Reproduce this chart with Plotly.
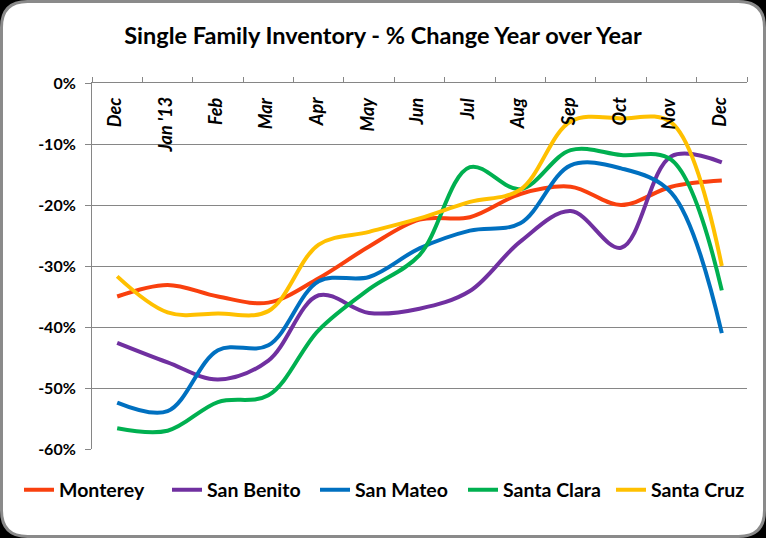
import plotly.graph_objects as go

# ---- data ----
months = ["Dec", "Jan '13", "Feb", "Mar", "Apr", "May", "Jun", "Jul", "Aug", "Sep", "Oct", "Nov", "Dec"]
monterey = [-35.0, -33.1, -35.0, -36.0, -32.0, -26.8, -22.4, -22.0, -18.2, -17.0, -20.0, -17.0, -16.0]
san_benito = [-42.6, -45.8, -48.6, -45.5, -34.8, -37.7, -37.0, -34.1, -26.0, -21.0, -27.0, -12.0, -13.0]
san_mateo = [-52.4, -53.8, -43.8, -43.0, -32.5, -31.8, -27.1, -24.2, -23.0, -13.5, -14.0, -18.0, -41.0]
santa_clara = [-56.6, -57.0, -52.3, -51.2, -40.5, -33.8, -28.2, -13.8, -17.4, -11.0, -11.8, -12.6, -34.0]
santa_cruz = [-31.7, -37.6, -37.8, -37.4, -26.5, -24.4, -22.2, -19.5, -17.5, -6.3, -5.8, -6.5, -30.0]

series = [
    ("Monterey", monterey, "#F9400E"),
    ("San Benito", san_benito, "#7030A0"),
    ("San Mateo", san_mateo, "#0070C0"),
    ("Santa Clara", santa_clara, "#00B050"),
    ("Santa Cruz", santa_cruz, "#FFC000"),
]
yticks = [0, -10, -20, -30, -40, -50, -60]

FONT = "Lato, Roboto, sans-serif"
W, H = 766, 538
L, R, T, B = 92, 19, 83, 89
PW, PH = W - L - R, H - T - B

xs = list(range(len(months)))
fig = go.Figure()
for name, vals, col in series:
    fig.add_trace(go.Scatter(
        x=xs, y=vals, name=name, mode="lines",
        line=dict(color=col, width=4, shape="spline", smoothing=1.0),
    ))

# month labels sit inside the plot, just under the top axis
for i, m in zip(xs, months):
    fig.add_annotation(
        x=i - 0.06, xref="x", y=1 - 12 / PH, yref="paper",
        text="<b><i>%s</i></b>" % m, textangle=-90,
        xanchor="center", yanchor="top", showarrow=False,
        font=dict(size=18, family=FONT, color="black"),
    )


def px2paper(px, py):
    return (px - L) / PW, (H - B - py) / PH


def rounded_rect(x0, y0, x1, y1, r):
    a = px2paper
    p = []
    p.append("M %f,%f" % a(x0 + r, y0))
    p.append("L %f,%f" % a(x1 - r, y0))
    p.append("Q %f,%f %f,%f" % (*a(x1, y0), *a(x1, y0 + r)))
    p.append("L %f,%f" % a(x1, y1 - r))
    p.append("Q %f,%f %f,%f" % (*a(x1, y1), *a(x1 - r, y1)))
    p.append("L %f,%f" % a(x0 + r, y1))
    p.append("Q %f,%f %f,%f" % (*a(x0, y1), *a(x0, y1 - r)))
    p.append("L %f,%f" % a(x0, y0 + r))
    p.append("Q %f,%f %f,%f" % (*a(x0, y0), *a(x0 + r, y0)))
    p.append("Z")
    return " ".join(p)


fig.add_shape(type="path", xref="paper", yref="paper",
              path=rounded_rect(1.5, 1.5, 764.5, 536.5, 26),
              fillcolor="white", line=dict(color="#8A8A8A", width=3), layer="below")

fig.update_layout(
    width=W, height=H,
    margin=dict(l=L, r=R, t=T, b=B, autoexpand=False),
    paper_bgcolor="black",
    plot_bgcolor="rgba(0,0,0,0)",
    font=dict(family=FONT, color="black"),
    title=dict(text="<b>Single Family Inventory - % Change Year over Year</b>",
               x=0.5, xanchor="center", y=1 - 36 / H, yanchor="middle",
               font=dict(size=23.5, family=FONT, color="black")),
    showlegend=True,
    legend=dict(orientation="h", x=(19 - L) / PW, xanchor="left",
                y=(H - B - 490) / PH, yanchor="middle",
                font=dict(size=19.5, family=FONT, color="black", weight="bold"),
                entrywidth=103, entrywidthmode="pixels",
                itemwidth=30,
                bgcolor="rgba(0,0,0,0)", traceorder="normal"),
    xaxis=dict(
        range=[-0.5, len(months) - 0.5],
        side="top",
        tickmode="array", tickvals=[i - 0.5 for i in range(len(months) + 1)],
        showticklabels=False,
        ticks="outside", ticklen=5, tickcolor="#868686", tickwidth=1,
        showgrid=False, zeroline=False,
        showline=True, linecolor="#868686", linewidth=1,
    ),
    yaxis=dict(
        range=[-60, 0],
        tickmode="array", tickvals=yticks,
        ticktext=["<b>%d%%</b>" % v for v in yticks],
        tickfont=dict(size=16, family=FONT, color="black"),
        ticks="outside", ticklen=6, tickcolor="#868686",
        ticklabelstandoff=6,
        showgrid=True, gridcolor="#868686", gridwidth=1,
        zeroline=False,
        showline=True, linecolor="#868686", linewidth=1,
    ),
)

fig.write_html("out.html")
